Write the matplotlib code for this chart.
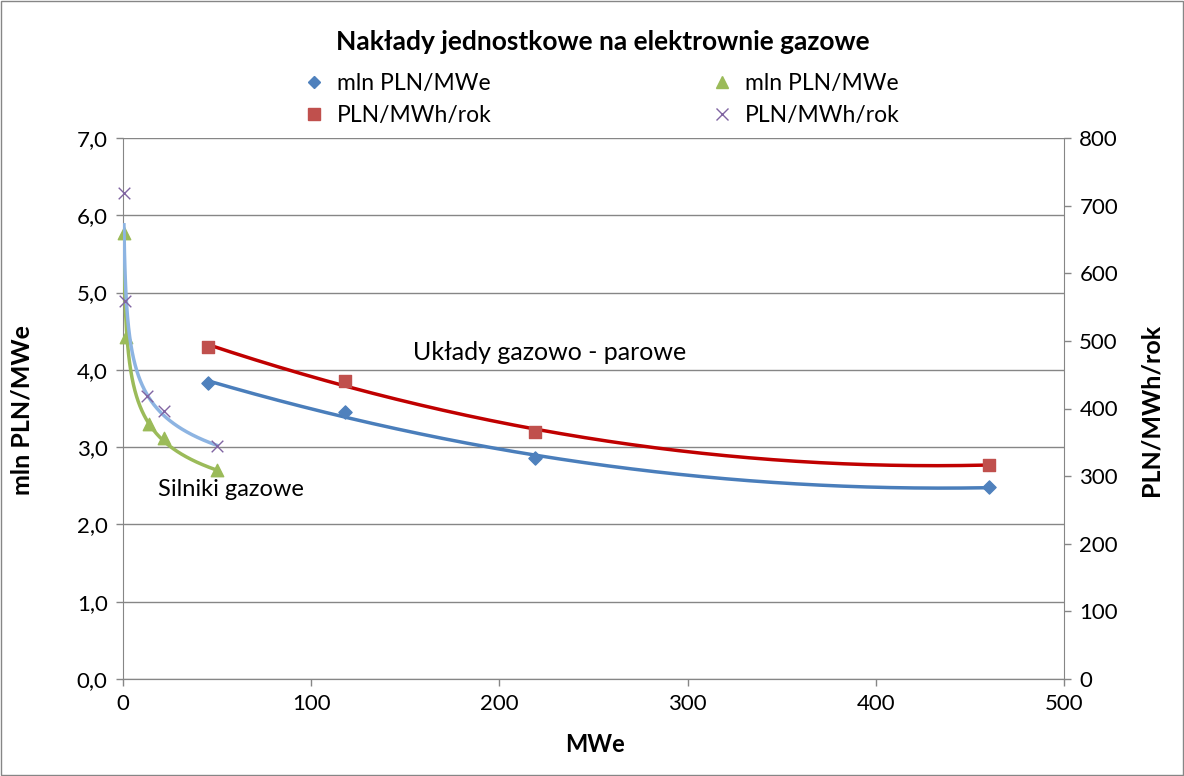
import numpy as np
import matplotlib
matplotlib.use("Agg")
import matplotlib.pyplot as plt
from matplotlib.lines import Line2D
from matplotlib.patches import Rectangle

plt.rcParams['font.family'] = ['Lato', 'DejaVu Sans']

# Układy gazowo-parowe
ccgt_x = [45, 118, 219, 460]
ccgt_capex = [3.83, 3.45, 2.86, 2.48]        # mln PLN/MWe (left axis)
ccgt_cost = [491, 441, 365, 317]             # PLN/MWh/rok (right axis)

# Silniki gazowe
eng_x_capex = [0.5, 1.5, 14, 22, 50]
eng_capex = [5.77, 4.42, 3.30, 3.12, 2.70]   # mln PLN/MWe (left axis)
eng_x_cost = [0.5, 1.0, 13, 22, 50]
eng_cost = [719, 559, 419, 396, 345]         # PLN/MWh/rok (right axis)

title = "Nakłady jednostkowe na elektrownie gazowe"
label_left = "mln PLN/MWe"
label_right = "PLN/MWh/rok"

C_BLUE = "#4F81BD"
C_RED = "#C0504D"
C_GREEN = "#9BBB59"
C_PURPLE = "#8064A2"
GRID = "#868686"

fig = plt.figure(figsize=(11.84, 7.76), dpi=100)
fig.patches.append(Rectangle((0.001, 0.001), 0.998, 0.998, transform=fig.transFigure,
                             fill=False, edgecolor="#868686", linewidth=1))
ax = fig.add_axes([123/1184, 1-679/776, (1064-123)/1184, (679-138)/776])
ax2 = ax.twinx()

ax.set_xlim(0, 500)
ax.set_ylim(0, 7)
ax2.set_ylim(0, 800)
ax.set_xticks(np.arange(0, 501, 100))
ax.set_yticks(np.arange(0, 7.01, 1))
ax.set_yticklabels([f"{v:.1f}".replace(".", ",") for v in np.arange(0, 7.01, 1)])
ax2.set_yticks(np.arange(0, 801, 100))

ax.grid(axis='y', color=GRID, linewidth=1)
ax.set_axisbelow(True)
for a in (ax, ax2):
    a.spines['top'].set_visible(False)
    for s in ('left', 'right', 'bottom'):
        a.spines[s].set_color(GRID)
    a.tick_params(colors=GRID, labelcolor='black', labelsize=16, length=5, width=1, pad=6)
ax2.spines['left'].set_visible(False)
ax.spines['right'].set_visible(False)

# Trendlines
def poly_trend(x, y, deg=2):
    c = np.polyfit(x, y, deg)
    xs = np.linspace(min(x), max(x), 200)
    return xs, np.polyval(c, xs)

def power_trend(x, y):
    b, a = np.polyfit(np.log(x), np.log(y), 1)
    xs = np.geomspace(min(x), max(x), 300)
    return xs, np.exp(a) * xs ** b

xs, ys = poly_trend(ccgt_x, ccgt_capex)
ax.plot(xs, ys, color="#4A7EBB", lw=2.5, zorder=3)
xs, ys = poly_trend(ccgt_x, ccgt_cost)
ax2.plot(xs, ys, color="#C00000", lw=2.5, zorder=3)
xs, ys = power_trend(eng_x_capex, eng_capex)
ax.plot(xs, ys, color=C_GREEN, lw=2.5, zorder=3)
xs, ys = power_trend(eng_x_cost, eng_cost)
ax2.plot(xs, ys, color="#8DB4E2", lw=2.5, zorder=3)

# Markers
ax.scatter(ccgt_x, ccgt_capex, marker='D', s=45, color=C_BLUE, zorder=5, clip_on=False)
ax.scatter(eng_x_capex, eng_capex, marker='^', s=80, color=C_GREEN, zorder=5, clip_on=False)
ax2.scatter(ccgt_x, ccgt_cost, marker='s', s=80, color=C_RED, zorder=5, clip_on=False)
ax2.scatter(eng_x_cost, eng_cost, marker='x', s=70, color=C_PURPLE, linewidths=1, zorder=5, clip_on=False)

fig.text(595/1184, 1-745/776, "MWe", ha='center', va='center', fontsize=17, fontweight='bold')
fig.text(22/1184, 1-410/776, label_left, ha='center', va='center', rotation=90,
         fontsize=18, fontweight='bold')
fig.text(1151/1184, 1-410/776, label_right, ha='center', va='center', rotation=90,
         fontsize=18, fontweight='bold')

fig.text(413/1184, 1-353/776, "Układy gazowo - parowe", fontsize=18, va='center', ha='left')
fig.text(158/1184, 1-490/776, "Silniki gazowe", fontsize=17, va='center', ha='left')

fig.text(603/1184, 1-42/776, title, ha='center', va='center', fontsize=19, fontweight='bold')

handles = [
    Line2D([], [], ls='none', marker='D', color=C_BLUE, markersize=6),
    Line2D([], [], ls='none', marker='s', color=C_RED, markersize=8),
    Line2D([], [], ls='none', marker='^', color=C_GREEN, markersize=8),
    Line2D([], [], ls='none', marker='x', color=C_PURPLE, markersize=8),
]
labels = [label_left, label_right, label_left, label_right]
fig.legend(handles, labels, ncol=2, loc='upper left', bbox_to_anchor=(291/1184, 1-62/776),
           frameon=False, fontsize=16.5, handlelength=1, handletextpad=0.5,
           columnspacing=9.55, labelspacing=0.45, borderpad=0)

fig.savefig("out.png", dpi=100)
